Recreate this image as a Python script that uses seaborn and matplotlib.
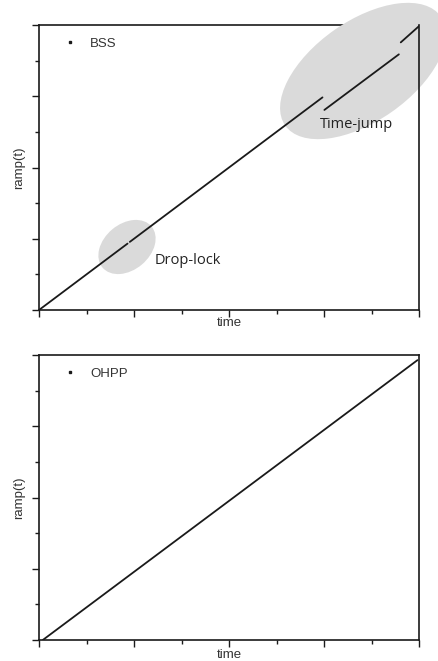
import matplotlib
matplotlib.use("Agg")
import matplotlib.pyplot as plt
import seaborn as sns
import pandas as pd
from matplotlib.patches import Ellipse
from matplotlib.lines import Line2D
from matplotlib.ticker import AutoMinorLocator

sns.set_style("ticks")
plt.rcParams['font.family'] = ['Liberation Sans', 'DejaVu Sans']

# ---- data (time, ramp) per segment ----
bss_seg_id = [0, 0, 1, 1, 2, 2, 3, 3]
bss_time = [0.0, 23.3, 23.9, 74.6, 75.1, 94.7, 95.2, 100.0]
bss_ramp = [0.0, 23.3, 23.9, 74.6, 70.2, 89.7, 93.9, 99.6]

ohpp_time = [1.0, 99.6]
ohpp_ramp = [0.0, 98.2]

x_major = [0, 25, 50, 75, 100]
y_major = [0, 25, 50, 75, 100]

series_labels = ["BSS", "OHPP"]
annot_labels = ["Drop-lock", "Time-jump"]

W, H = 438, 661
fig = plt.figure(figsize=(W / 100, H / 100), dpi=100)

def px_ax(left, top, right, bottom):
    return fig.add_axes([left / W, (H - bottom) / H, (right - left) / W, (bottom - top) / H])

ax1 = px_ax(39, 25, 419, 310)
ax2 = px_ax(39, 355, 419, 640)

line_color = '#1a1a1a'
bss_df = pd.DataFrame({'seg': bss_seg_id, 'time': bss_time, 'ramp': bss_ramp})
for s, d in bss_df.groupby('seg'):
    sns.lineplot(data=d, x='time', y='ramp', ax=ax1, color=line_color, lw=1.3,
                 zorder=3, legend=False)

ohpp_df = pd.DataFrame({'time': ohpp_time, 'ramp': ohpp_ramp})
sns.lineplot(data=ohpp_df, x='time', y='ramp', ax=ax2, color=line_color, lw=1.3,
             zorder=3, legend=False)

label_color = '#333333'
for ax, lab, xlab_y in [(ax1, series_labels[0], -0.024), (ax2, series_labels[1], -0.033)]:
    ax.set_xlim(x_major[0], x_major[-1])
    ax.set_ylim(y_major[0], y_major[-1])
    ax.set_xticks(x_major)
    ax.set_yticks(y_major)
    ax.xaxis.set_minor_locator(AutoMinorLocator(2))
    ax.yaxis.set_minor_locator(AutoMinorLocator(2))
    ax.tick_params(which='major', direction='out', length=5, width=1.0, color=line_color,
                   labelbottom=False, labelleft=False)
    ax.tick_params(which='minor', direction='out', length=3, width=1.0, color=line_color)
    for sp in ax.spines.values():
        sp.set_visible(True)
        sp.set_linewidth(1.2)
        sp.set_color(line_color)
    ax.spines['right'].set_zorder(3.5)
    ax.set_xlabel('time', fontsize=9.5, color=label_color)
    ax.set_ylabel('ramp(t)', fontsize=9.5, color=label_color)
    ax.xaxis.set_label_coords(0.5, xlab_y)
    ax.yaxis.set_label_coords(-0.037, 0.5)
    h = Line2D([], [], marker='s', ms=1.8, ls='', color=line_color, label=lab)
    ax.legend(handles=[h], loc='center left', bbox_to_anchor=(0.065, 0.935),
              frameon=False, handlelength=1.0, handletextpad=1.0, borderpad=0,
              borderaxespad=0, fontsize=9.5, labelcolor=label_color)

# highlight ellipses (positions in figure pixels)
def pix_ellipse(ax, cx, cy, w, h, ang):
    e = Ellipse((cx / 100, (H - cy) / 100), w / 100, h / 100, angle=ang,
                transform=fig.dpi_scale_trans, facecolor='#dadada', edgecolor='none',
                zorder=2.6, clip_on=False)
    ax.add_patch(e)

pix_ellipse(ax1, 127, 247, 64, 46, 40)
pix_ellipse(ax1, 363, 71, 190, 100, 35)

def pix_text(ax, x, y, s):
    ax.text(x / 100, (H - y) / 100, s, transform=fig.dpi_scale_trans, fontsize=10.5,
            family=['Open Sans', 'DejaVu Sans'], color='#222222', ha='left', va='center',
            zorder=4)

pix_text(ax1, 155, 261, annot_labels[0])
pix_text(ax1, 320, 125, annot_labels[1])

fig.savefig('out.png', dpi=100)
